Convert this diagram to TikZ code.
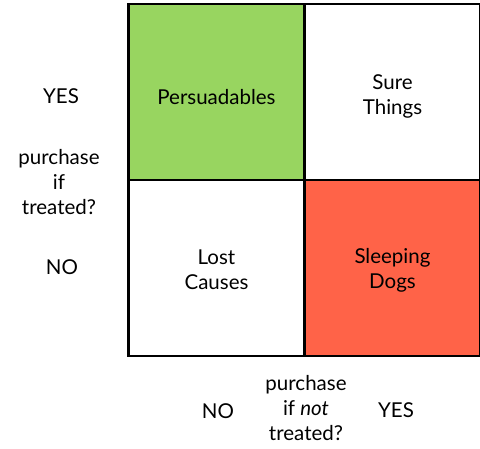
\documentclass[tikz,border=0pt]{standalone}
\usepackage{fontspec}
\setmainfont{Lato}
\definecolor{persgreen}{RGB}{152,213,96}
\definecolor{dogred}{RGB}{255,99,72}
\tikzset{
  cell/.style={draw,line width=2.5pt,minimum width=176pt,minimum height=176pt},
  lbl/.style={align=center,font=\fontsize{20.5}{25}\selectfont}
}
\begin{document}
\begin{tikzpicture}[x=1pt,y=-1pt]
\useasboundingbox (0,0) rectangle (480,448);
% the four cells
\node[cell,fill=persgreen] (pers) at (216.5,92) {};
\node[cell] (sure) at (392.5,92) {};
\node[cell] (lost) at (216.5,268) {};
\node[cell,fill=dogred] (dogs) at (392.5,268) {};
\node[lbl] (perstxt) at (216.5,97) {Persuadables};
\node[lbl] (suretxt) at (392.5,96) {Sure\\Things};
\node[lbl] (losttxt) at (216.5,270) {Lost\\Causes};
\node[lbl] (dogstxt) at (392.5,270) {Sleeping\\Dogs};
% axis labels
\node[lbl] (yesl) at (61,96) {YES};
\node[lbl] (qleft) at (59,182) {purchase\\if\\treated?};
\node[lbl] (nol) at (62,267) {NO};
\node[lbl] (nob) at (218,411) {NO};
\node[lbl] (qbot) at (306,408) {purchase\\if \emph{not}\\treated?};
\node[lbl] (yesb) at (396,410) {YES};
\end{tikzpicture}
\end{document}
